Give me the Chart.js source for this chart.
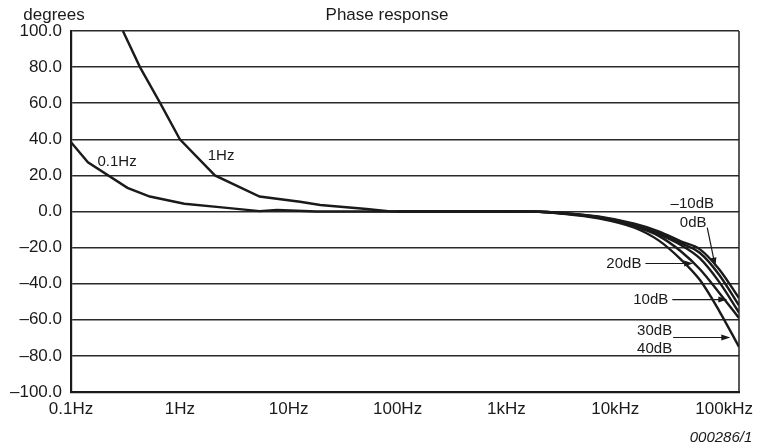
<!DOCTYPE html>
<html>
<head>
<meta charset="utf-8">
<title>Phase response</title>
<script src="https://cdn.jsdelivr.net/npm/chart.js@4.4.1/dist/chart.umd.min.js"></script>
<style>
  html, body { margin: 0; padding: 0; background: #fff; }
  #wrap { width: 765px; height: 447px; }
</style>
</head>
<body>
<div id="wrap"><canvas id="phase"></canvas></div>
<script>
// x axis: decades of frequency (Hz) and their labels
const decades = [0.1, 1, 10, 100, 1000, 10000, 100000];
const decadeLabels = ['0.1Hz', '1Hz', '10Hz', '100Hz', '1kHz', '10kHz', '100kHz'];

// low-frequency roll-off curves (0.1Hz and 1Hz corners)
const freq01Hz = [0.1, 0.143, 0.33, 0.53, 1.1, 2.3, 5.4, 7.8, 18, 100];
const phase01Hz = [38.4, 27.3, 13.1, 8.3, 4.3, 2.4, 0.2, 0.9, 0, 0];

const freq1Hz = [0.3, 0.43, 0.66, 1.0, 2.1, 5.4, 12.7, 19.5, 52, 82, 100];
const phase1Hz = [100, 80, 60, 40, 20, 8.3, 5.4, 3.6, 1.4, 0.2, 0];

// high-frequency curves for each gain setting
const freqHigh = [100, 1000, 2000, 3000, 7000, 15000, 25000, 40000, 60000, 90000, 137000];
const phaseM10dB = [0, 0, -0.1, -0.6, -2.8, -6.8, -11, -16.5, -21, -32, -48];
const phase0dB   = [0, 0, -0.1, -0.7, -3.0, -7.2, -11.8, -17.5, -23, -35, -52];
const phase10dB  = [0, 0, -0.1, -0.8, -3.2, -7.6, -12.5, -18.5, -26, -39, -56];
const phase20dB  = [0, 0, -0.2, -0.9, -3.4, -8.3, -13.5, -22, -32, -45, -59];
const phase30dB  = [0, 0, -0.2, -1.0, -3.8, -9.0, -16, -26.5, -38, -55, -75];

// curve labels, in data units (frequency, degrees)
const notes = [
  { text: '0.1Hz', f: 0.265, v: 27.7 },
  { text: '1Hz', f: 2.39, v: 31 },
  { text: '\u201310dB', f: 51000, v: 4.4 },
  { text: '0dB', f: 52000, v: -6.1 },
  { text: '20dB', f: 12000, v: -28.8 },
  { text: '10dB', f: 21200, v: -48.8 },
  { text: '30dB', f: 23000, v: -65.9 },
  { text: '40dB', f: 23000, v: -75.9 }
];
const arrows = [
  { f1: 70000, v1: -8.9, f2: 83000, v2: -30.5 },
  { f1: 18900, v1: -28.8, f2: 52000, v2: -28.8 },
  { f1: 33400, v1: -48.8, f2: 107000, v2: -48.8 },
  { f1: 34000, v1: -69.8, f2: 114000, v2: -69.8 }
];

const FONT = '"Liberation Sans", Arial, sans-serif';
const INK = '#1a1a1a';

function pts(xs, ys) {
  return xs.map((f, i) => ({ x: f, y: ys[i] }));
}

function curve(xs, ys, smooth) {
  return {
    data: pts(xs, ys),
    borderColor: INK,
    borderWidth: 2.4,
    pointRadius: 0,
    fill: false,
    tension: 0,
    cubicInterpolationMode: smooth ? 'monotone' : 'default'
  };
}

const overlay = {
  id: 'overlay',
  afterDatasetsDraw(chart) {
    const { ctx, chartArea: a, scales: { x, y } } = chart;
    ctx.save();
    // frame on the right
    ctx.strokeStyle = '#222';
    ctx.lineWidth = 1.5;
    ctx.beginPath();
    ctx.moveTo(a.right, a.top);
    ctx.lineTo(a.right, a.bottom);
    ctx.stroke();

    ctx.fillStyle = INK;
    ctx.textAlign = 'center';
    ctx.textBaseline = 'middle';
    ctx.font = '15px ' + FONT;
    notes.forEach(n => {
      ctx.fillText(n.text, x.getPixelForValue(n.f), y.getPixelForValue(n.v));
    });

    ctx.strokeStyle = INK;
    ctx.lineWidth = 1.2;
    arrows.forEach(r => {
      const x1 = x.getPixelForValue(r.f1), y1 = y.getPixelForValue(r.v1);
      const x2 = x.getPixelForValue(r.f2), y2 = y.getPixelForValue(r.v2);
      const ang = Math.atan2(y2 - y1, x2 - x1);
      ctx.beginPath();
      ctx.moveTo(x1, y1);
      ctx.lineTo(x2 - 6 * Math.cos(ang), y2 - 6 * Math.sin(ang));
      ctx.stroke();
      ctx.beginPath();
      ctx.moveTo(x2, y2);
      ctx.lineTo(x2 - 9 * Math.cos(ang) + 3 * Math.sin(ang), y2 - 9 * Math.sin(ang) - 3 * Math.cos(ang));
      ctx.lineTo(x2 - 9 * Math.cos(ang) - 3 * Math.sin(ang), y2 - 9 * Math.sin(ang) + 3 * Math.cos(ang));
      ctx.closePath();
      ctx.fill();
    });

    // header and footer text
    ctx.font = '17px ' + FONT;
    ctx.fillText('degrees', 54, 15);
    ctx.fillText('Phase response', 387, 15);
    ctx.font = 'italic 15px ' + FONT;
    ctx.fillText('000286/1', 721, 438);
    ctx.restore();
  }
};

new Chart(document.getElementById('phase'), {
  type: 'line',
  data: {
    datasets: [
      curve(freq01Hz, phase01Hz, false),
      curve(freq1Hz, phase1Hz, false),
      curve(freqHigh, phaseM10dB, true),
      curve(freqHigh, phase0dB, true),
      curve(freqHigh, phase10dB, true),
      curve(freqHigh, phase20dB, true),
      curve(freqHigh, phase30dB, true)
    ]
  },
  options: {
    responsive: true,
    maintainAspectRatio: false,
    animation: false,
    layout: { padding: { top: 31, right: 26, bottom: 0, left: 0 } },
    plugins: {
      legend: { display: false },
      tooltip: { enabled: false },
      title: { display: false }
    },
    scales: {
      x: {
        type: 'logarithmic',
        min: 0.1,
        max: 137000,
        afterBuildTicks: scale => {
          scale.ticks = decades.map(v => ({ value: v }));
        },
        afterFit: scale => { scale.height = 55; },
        grid: { display: false, drawTicks: false },
        border: { display: true, color: '#1a1a1a', width: 2.2 },
        ticks: {
          color: INK,
          padding: 7,
          maxRotation: 0,
          autoSkip: false,
          font: { family: FONT, size: 17 },
          callback: (v, i) => decadeLabels[i]
        }
      },
      y: {
        min: -100,
        max: 100,
        afterFit: scale => { scale.width = 71; },
        grid: { color: '#2a2a2a', lineWidth: 1.5, drawTicks: false },
        border: { display: true, color: '#1a1a1a', width: 2.2 },
        ticks: {
          stepSize: 20,
          color: INK,
          padding: 9,
          font: { family: FONT, size: 17 },
          callback: v => (v < 0 ? '\u2013' : '') + Math.abs(v).toFixed(1)
        }
      }
    }
  },
  plugins: [overlay]
});
</script>
</body>
</html>
